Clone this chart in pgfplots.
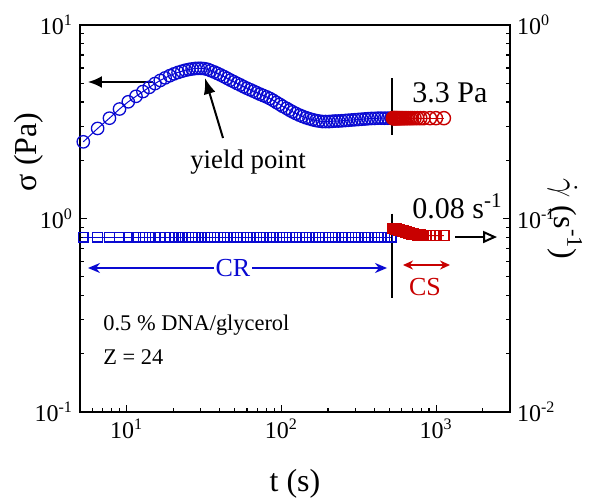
\documentclass[border=0pt]{standalone}
\usepackage{fontspec}
\setmainfont{Liberation Serif}
\usepackage{pgfplots}
\usepackage{pgfplotstable}
\pgfplotsset{compat=1.18}
\usetikzlibrary{arrows.meta}
\definecolor{myblue}{RGB}{10,10,210}
\definecolor{myred}{RGB}{200,0,0}

\pgfplotstableread{
t s
5.25 2.49
6.5 2.92
7.75 3.30
9.0 3.68
10.25 4.01
11.5 4.28
12.75 4.53
14.0 4.76
15.25 4.98
16.5 5.17
17.75 5.33
19.0 5.47
20.25 5.59
21.5 5.69
22.75 5.77
24.0 5.84
25.25 5.89
26.5 5.93
27.75 5.96
29.0 5.97
30.25 5.97
31.8 5.95
33.4 5.90
35.0 5.81
36.8 5.72
38.6 5.62
40.5 5.52
42.6 5.41
44.7 5.30
46.9 5.19
49.3 5.09
51.7 4.99
54.3 4.90
57.0 4.80
59.9 4.71
62.9 4.63
66.0 4.55
69.3 4.47
72.8 4.39
76.4 4.32
80.3 4.25
84.3 4.17
88.5 4.08
92.9 3.98
97.6 3.89
102 3.80
108 3.71
113 3.63
118 3.56
124 3.49
131 3.42
137 3.37
144 3.32
151 3.28
159 3.24
167 3.21
175 3.19
184 3.17
193 3.17
203 3.17
213 3.18
223 3.19
234 3.19
246 3.20
259 3.21
271 3.22
285 3.23
299 3.24
314 3.25
330 3.26
347 3.27
364 3.28
382 3.29
401 3.29
421 3.30
442 3.30
465 3.30
488 3.30
512 3.30
}\sigCR

\pgfplotstableread{
t s
525 3.30
529 3.30
533 3.30
537 3.30
541 3.30
546 3.30
551 3.30
556 3.30
562 3.30
568 3.30
575 3.30
582 3.30
590 3.30
599 3.30
609 3.30
620 3.30
632 3.30
646 3.30
662 3.30
680 3.30
700 3.30
725 3.30
755 3.30
790 3.30
830 3.30
912 3.30
997 3.30
1122 3.30
}\sigCS

\pgfplotstableread{
t g
5.25 0.0800
6.5 0.0800
7.75 0.0800
9.0 0.0800
10.25 0.0800
11.5 0.0800
12.75 0.0800
14.0 0.0800
15.25 0.0800
16.5 0.0800
17.75 0.0800
19.0 0.0800
20.25 0.0800
21.5 0.0800
22.75 0.0800
24.0 0.0800
25.25 0.0800
26.5 0.0800
27.75 0.0800
29.0 0.0800
30.25 0.0800
31.8 0.0800
33.4 0.0800
35.0 0.0800
36.8 0.0800
38.6 0.0800
40.5 0.0800
42.6 0.0800
44.7 0.0800
46.9 0.0800
49.3 0.0800
51.7 0.0800
54.3 0.0800
57.0 0.0800
59.9 0.0800
62.9 0.0800
66.0 0.0800
69.3 0.0800
72.8 0.0800
76.4 0.0800
80.3 0.0800
84.3 0.0800
88.5 0.0800
92.9 0.0800
97.6 0.0800
102 0.0800
108 0.0800
113 0.0800
118 0.0800
124 0.0800
131 0.0800
137 0.0800
144 0.0800
151 0.0800
159 0.0800
167 0.0800
175 0.0800
184 0.0800
193 0.0800
203 0.0800
213 0.0800
223 0.0800
234 0.0800
246 0.0800
259 0.0800
271 0.0800
285 0.0800
299 0.0800
314 0.0800
330 0.0800
347 0.0800
364 0.0800
382 0.0800
401 0.0800
421 0.0800
442 0.0800
465 0.0800
488 0.0800
512 0.0800
}\rateCR

\pgfplotstableread{
t g
525 0.0890
527 0.0890
529 0.0889
531 0.0889
533 0.0888
535 0.0888
537 0.0887
539 0.0887
541 0.0886
544 0.0885
546 0.0884
549 0.0883
551 0.0882
554 0.0881
556 0.0880
559 0.0879
562 0.0878
565 0.0877
568 0.0876
571 0.0875
575 0.0873
578 0.0872
582 0.0870
586 0.0869
590 0.0867
595 0.0866
599 0.0864
604 0.0862
609 0.0860
614 0.0858
620 0.0856
626 0.0854
632 0.0852
639 0.0850
646 0.0847
654 0.0845
662 0.0842
671 0.0840
680 0.0837
690 0.0835
700 0.0832
712 0.0830
725 0.0827
740 0.0825
755 0.0823
772 0.0821
790 0.0820
810 0.0818
830 0.0817
912 0.0815
997 0.0815
1122 0.0815
}\rateCS

\begin{document}
\begin{tikzpicture}
\begin{axis}[
  scale only axis, width=215pt, height=193.5pt,
  xmode=log, xmin=5, xmax=3000,
  tick align=inside,
  major tick length=3.5pt, minor tick length=2pt,
  every tick/.append style={black, line width=0.6pt},
  axis line style={line width=1pt},
  tick label style={font=\fontsize{12}{14}\selectfont},
  ymode=log, ymin=0.1, ymax=10,
  xtick={10,100,1000},
  xticklabels={10\textsuperscript{1},10\textsuperscript{2},10\textsuperscript{3}},
  minor xtick={6,7,8,9,20,30,40,50,60,70,80,90,200,300,400,500,600,700,800,900,2000},
  ytick={0.1,1,10},
  yticklabels={10\textsuperscript{-1},10\textsuperscript{0},10\textsuperscript{1}},
  minor ytick={0.2,0.3,0.4,0.5,0.6,0.7,0.8,0.9,2,3,4,5,6,7,8,9},
  xtick pos=bottom, ytick pos=left,
  clip=false,
]
\addplot[myblue, line width=0.5pt, mark=o, mark size=3.1pt,
  mark options={solid, fill=white, line width=0.65pt}] table[x=t,y=s] {\sigCR};
\addplot[myred, line width=0.5pt, mark=o, mark size=3.3pt,
  mark options={solid, fill=white, line width=0.7pt}] table[x=t,y=s] {\sigCS};

% axis labels
\node[font=\fontsize{16}{19}\selectfont] at (rel axis cs:0.5,-0.186) {t (s)};
\node[rotate=90, font=\fontsize{16}{19}\selectfont] at (rel axis cs:-0.1186,0.672) {σ (Pa)};
\node[rotate=-90, inner sep=0pt, font=\fontsize{16}{19}\selectfont] at (rel axis cs:1.1279,0.499) {$\dot{\gamma}$ (s\textsuperscript{-1})};

\draw[black, line width=1pt] (rel axis cs:0.7256,0.8630) -- (rel axis cs:0.7256,0.7158);
\draw[black, line width=1pt] (rel axis cs:0.7256,0.5124) -- (rel axis cs:0.7256,0.2946);
\node[anchor=west, inner sep=0pt, font=\fontsize{15}{18}\selectfont] at (rel axis cs:0.7721,0.8243) {3.3 Pa};
\node[anchor=base west, inner sep=0pt, font=\fontsize{15}{18}\selectfont] at (rel axis cs:0.7721,0.5013) {0.08 s\textsuperscript{-1}};
\draw[black, line width=1pt, -{Triangle[open, length=7pt, width=6pt]}] (rel axis cs:0.8721,0.4522) -- (rel axis cs:0.9698,0.4522);
\draw[black, line width=1pt, -{Latex[length=7pt, width=6pt]}] (rel axis cs:0.1698,0.8527) -- (rel axis cs:0.0186,0.8527);
\draw[black, line width=1pt, -{Latex[length=8pt, width=6pt]}] (rel axis cs:0.3326,0.7080) -- (rel axis cs:0.2907,0.8630);
\node[font=\fontsize{13.4}{16}\selectfont] at (rel axis cs:0.3907,0.6460) {yield point};
\draw[myblue, line width=0.9pt, {Stealth[length=6pt, width=5pt]}-{Stealth[length=6pt, width=5pt]}] (rel axis cs:0.0186,0.3721) -- (rel axis cs:0.7140,0.3721);
\node[fill=white, inner sep=1pt, text=myblue, font=\fontsize{13}{15}\selectfont] at (rel axis cs:0.3558,0.3721) {CR};
\draw[myred, line width=0.9pt, {Stealth[length=5pt, width=4.5pt]}-{Stealth[length=5pt, width=4.5pt]}] (rel axis cs:0.7512,0.3798) -- (rel axis cs:0.8605,0.3798);
\node[text=myred, font=\fontsize{13}{15}\selectfont] at (rel axis cs:0.8023,0.3230) {CS};
\node[anchor=west, inner sep=0pt, font=\fontsize{11.2}{13}\selectfont] at (rel axis cs:0.0535,0.2248) {0.5 \% DNA/glycerol};
\node[anchor=west, inner sep=0pt, font=\fontsize{11.2}{13}\selectfont] at (rel axis cs:0.0535,0.1421) {Z = 24};

\coordinate (bbsw) at (rel axis cs:-0.18605,-0.22222);
\coordinate (bbne) at (rel axis cs:1.18605,1.06460);
\end{axis}

\begin{axis}[
  scale only axis, width=215pt, height=193.5pt,
  xmode=log, xmin=5, xmax=3000,
  tick align=inside,
  major tick length=3.5pt, minor tick length=2pt,
  every tick/.append style={black, line width=0.6pt},
  axis line style={line width=1pt},
  tick label style={font=\fontsize{12}{14}\selectfont},
  ymode=log, ymin=0.01, ymax=1,
  axis x line=none, axis y line*=right,
  ytick={0.01,0.1,1},
  yticklabels={10\textsuperscript{-2},10\textsuperscript{-1},10\textsuperscript{0}},
  minor ytick={0.02,0.03,0.04,0.05,0.06,0.07,0.08,0.09,0.2,0.3,0.4,0.5,0.6,0.7,0.8,0.9},
]
\addplot[myblue, line width=0.5pt, mark=square, mark size=2.4pt,
  mark options={solid, line width=0.6pt}] table[x=t,y=g] {\rateCR};
\addplot[myred, line width=0.5pt, mark=square, mark size=2.5pt,
  mark options={solid, line width=0.7pt}] table[x=t,y=g] {\rateCS};
\end{axis}
\pgfresetboundingbox
\useasboundingbox (bbsw) rectangle (bbne);
\end{tikzpicture}
\end{document}
